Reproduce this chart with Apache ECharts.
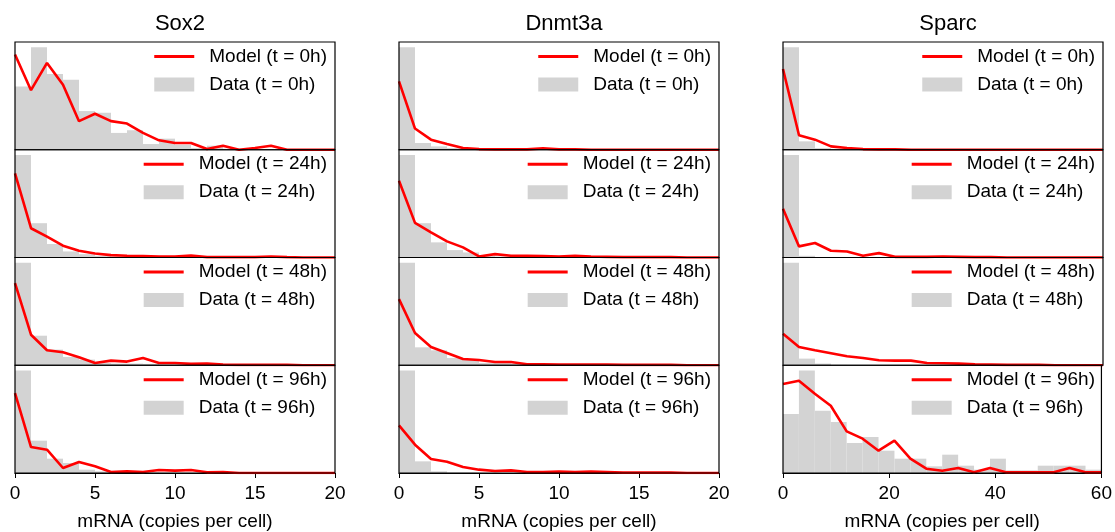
<!DOCTYPE html>
<html>
<head>
<meta charset="utf-8">
<script src="https://cdn.jsdelivr.net/npm/echarts@6/dist/echarts.min.js"></script>
<style>
    body { margin: 0; background: #fff; }
    #myChart { width: 1115px; height: 532px; }
</style>
</head>
<body>
<div id="myChart"></div>
<script>
var genes = ['Sox2', 'Dnmt3a', 'Sparc'];
var times = ['0h', '24h', '48h', '96h'];
var xMax = [20, 20, 60];
var binWidth = [1, 1, 3];
var tickStep = [5, 5, 20];

// histogram heights (one row per time point), arbitrary units
var sox2Data = [
    [188, 305, 225, 208, 115, 110, 50, 58, 17, 33, 15, 5, 12, 3, 2, 2, 2, 0, 0, 0],
    [305, 102, 40, 18, 10, 5, 3, 2, 2, 1, 1, 1, 0, 0, 0, 0, 0, 0, 0, 0],
    [309, 89, 47, 25, 17, 7, 5, 5, 4, 2, 2, 1, 1, 0, 0, 0, 0, 0, 0, 0],
    [308, 97, 43, 30, 10, 5, 2, 2, 2, 1, 1, 1, 0, 0, 0, 0, 0, 0, 0, 0]
];
var sox2Model = [
    [283, 177, 258, 193, 85, 107, 85, 78, 50, 28, 20, 20, 2, 12, 0, 5, 12, 0, 0, 0, 0],
    [250, 87, 62, 35, 20, 12, 7, 5, 4, 3, 3, 6, 1, 1, 1, 1, 3, 1, 0, 0, 0],
    [247, 92, 45, 39, 24, 7, 14, 11, 22, 7, 7, 4, 5, 2, 1, 1, 1, 1, 0, 0, 0],
    [240, 78, 70, 15, 33, 20, 3, 5, 3, 9, 7, 9, 2, 3, 0, 0, 0, 0, 0, 0, 0]
];
var dnmt3aData = [
    [305, 20, 10, 5, 2, 1, 1, 1, 1, 1, 0, 0, 0, 0, 0, 0, 0, 0, 0, 0],
    [305, 102, 45, 22, 15, 5, 3, 2, 2, 1, 1, 1, 0, 0, 0, 0, 0, 0, 0, 0],
    [309, 54, 45, 22, 17, 7, 7, 5, 2, 2, 1, 1, 0, 0, 0, 0, 0, 0, 0, 0],
    [308, 35, 5, 1, 1, 0, 0, 0, 0, 0, 0, 0, 0, 0, 0, 0, 0, 0, 0, 0]
];
var dnmt3aModel = [
    [203, 63, 30, 17, 5, 2, 1, 1, 1, 4, 1, 1, 0, 0, 0, 0, 0, 0, 0, 0, 0],
    [228, 103, 75, 48, 30, 3, 10, 5, 5, 4, 3, 5, 3, 2, 1, 1, 1, 1, 0, 0, 0],
    [199, 97, 55, 37, 19, 16, 10, 10, 3, 3, 2, 2, 2, 2, 1, 1, 1, 1, 0, 0, 0],
    [143, 85, 42, 34, 18, 10, 6, 8, 3, 3, 4, 3, 4, 3, 1, 1, 1, 1, 0, 0, 0]
];
var sparcData = [
    [305, 25, 5, 0, 0, 0, 0, 0, 0, 0, 0, 0, 0, 0, 0, 0, 0, 0, 0, 0],
    [305, 5, 1, 0, 0, 0, 0, 0, 0, 0, 0, 0, 0, 0, 0, 0, 0, 0, 0, 0],
    [309, 20, 5, 1, 0, 0, 0, 0, 0, 0, 0, 0, 0, 0, 0, 0, 0, 0, 0, 0],
    [177, 308, 187, 153, 90, 108, 67, 43, 43, 20, 55, 22, 10, 43, 8, 8, 22, 22, 22, 10]
];
var sparcModel = [
    [240, 43, 30, 10, 5, 2, 1, 1, 0, 0, 0, 0, 0, 0, 0, 0, 0, 0, 0, 0, 0],
    [145, 33, 43, 20, 18, 5, 13, 2, 2, 2, 3, 2, 1, 1, 0, 0, 0, 0, 0, 0, 0],
    [95, 55, 45, 36, 27, 22, 15, 14, 14, 7, 6, 5, 3, 2, 1, 1, 1, 0, 0, 0, 0],
    [267, 277, 238, 202, 125, 103, 67, 97, 43, 13, 7, 15, 2, 15, 2, 2, 2, 2, 15, 2, 2]
];

var allData = [sox2Data, dnmt3aData, sparcData];
var allModel = [sox2Model, dnmt3aModel, sparcModel];

var font = "'Liberation Sans', Arial, sans-serif";
var myChart = echarts.init(document.getElementById('myChart'));

function renderBar(params, api) {
    var p0 = api.coord([api.value(0), api.value(2)]);
    var p1 = api.coord([api.value(1), 0]);
    return {
        type: 'rect',
        shape: { x: p0[0], y: p0[1], width: p1[0] - p0[0], height: p1[1] - p0[1] },
        style: api.style({ fill: '#d3d3d3' })
    };
}

var gridLeft = 15, colStep = 384, gridW = 320;
var gridTop = 42, rowH = 107.75;

var title = [], grid = [], xAxis = [], yAxis = [], legend = [], series = [];

for (var c = 0; c < 3; c++) {
    title.push({
        text: genes[c],
        left: gridLeft + colStep * c + gridW / 2,
        top: 8,
        textAlign: 'center',
        textStyle: { fontSize: 22, fontWeight: 'normal', color: '#000', fontFamily: font }
    });
    for (var r = 0; r < 4; r++) {
        var idx = c * 4 + r;
        var isBottom = r === 3;
        var bars = allData[c][r];
        var model = allModel[c][r];
        var yTop = Math.max(Math.max.apply(null, bars), Math.max.apply(null, model)) * 1.05;

        grid.push({
            left: gridLeft + colStep * c,
            top: gridTop + rowH * r,
            width: gridW,
            height: rowH,
            show: true,
            z: 5,
            borderColor: '#000',
            borderWidth: 1.2,
            backgroundColor: 'transparent'
        });
        xAxis.push({
            gridIndex: idx,
            type: 'value',
            min: 0,
            max: xMax[c],
            interval: tickStep[c],
            splitLine: { show: false },
            axisLine: { show: isBottom, lineStyle: { color: '#000', width: 1.2 } },
            axisTick: { show: isBottom, length: 5, lineStyle: { color: '#000' } },
            axisLabel: { show: isBottom, color: '#000', fontSize: 19, margin: 11, fontFamily: font },
            name: isBottom ? 'mRNA (copies per cell)' : '',
            nameLocation: 'middle',
            nameGap: 39,
            nameTextStyle: { color: '#000', fontSize: 19, fontFamily: font }
        });
        yAxis.push({
            gridIndex: idx,
            type: 'value',
            min: 0,
            max: yTop,
            show: false
        });

        var modelName = 'Model (t = ' + times[r] + ')';
        var dataName = 'Data (t = ' + times[r] + ')';
        legend.push({
            // line-only key for the model, plain patch for the data
            data: [
                { name: modelName, itemStyle: { opacity: 0 }, lineStyle: { width: 2.8 } },
                { name: dataName, icon: 'rect' }
            ],
            orient: 'vertical',
            align: 'left',
            right: 1115 - (gridLeft + colStep * c + gridW) + 8,
            top: gridTop + rowH * r + 5,
            padding: 0,
            itemWidth: 40,
            itemHeight: 14,
            itemGap: 9,
            selectedMode: false,
            textStyle: { fontSize: 19, color: '#000', fontFamily: font, padding: [0, 0, 0, 10] }
        });

        var barData = [];
        for (var i = 0; i < bars.length; i++) {
            barData.push([i * binWidth[c], (i + 1) * binWidth[c], bars[i]]);
        }
        var lineData = [];
        for (var j = 0; j < model.length; j++) {
            lineData.push([j * binWidth[c], model[j]]);
        }
        series.push({
            name: dataName,
            type: 'custom',
            xAxisIndex: idx,
            yAxisIndex: idx,
            renderItem: renderBar,
            encode: { x: [0, 1], y: 2 },
            itemStyle: { color: '#d3d3d3' },
            data: barData
        });
        series.push({
            name: modelName,
            type: 'line',
            xAxisIndex: idx,
            yAxisIndex: idx,
            symbol: 'none',
            showSymbol: false,
            lineStyle: { color: '#ff0000', width: 2.6 },
            itemStyle: { color: '#ff0000' },
            data: lineData
        });
    }
}

myChart.setOption({
    animation: false,
    title: title,
    grid: grid,
    xAxis: xAxis,
    yAxis: yAxis,
    legend: legend,
    series: series
});
</script>
</body>
</html>
